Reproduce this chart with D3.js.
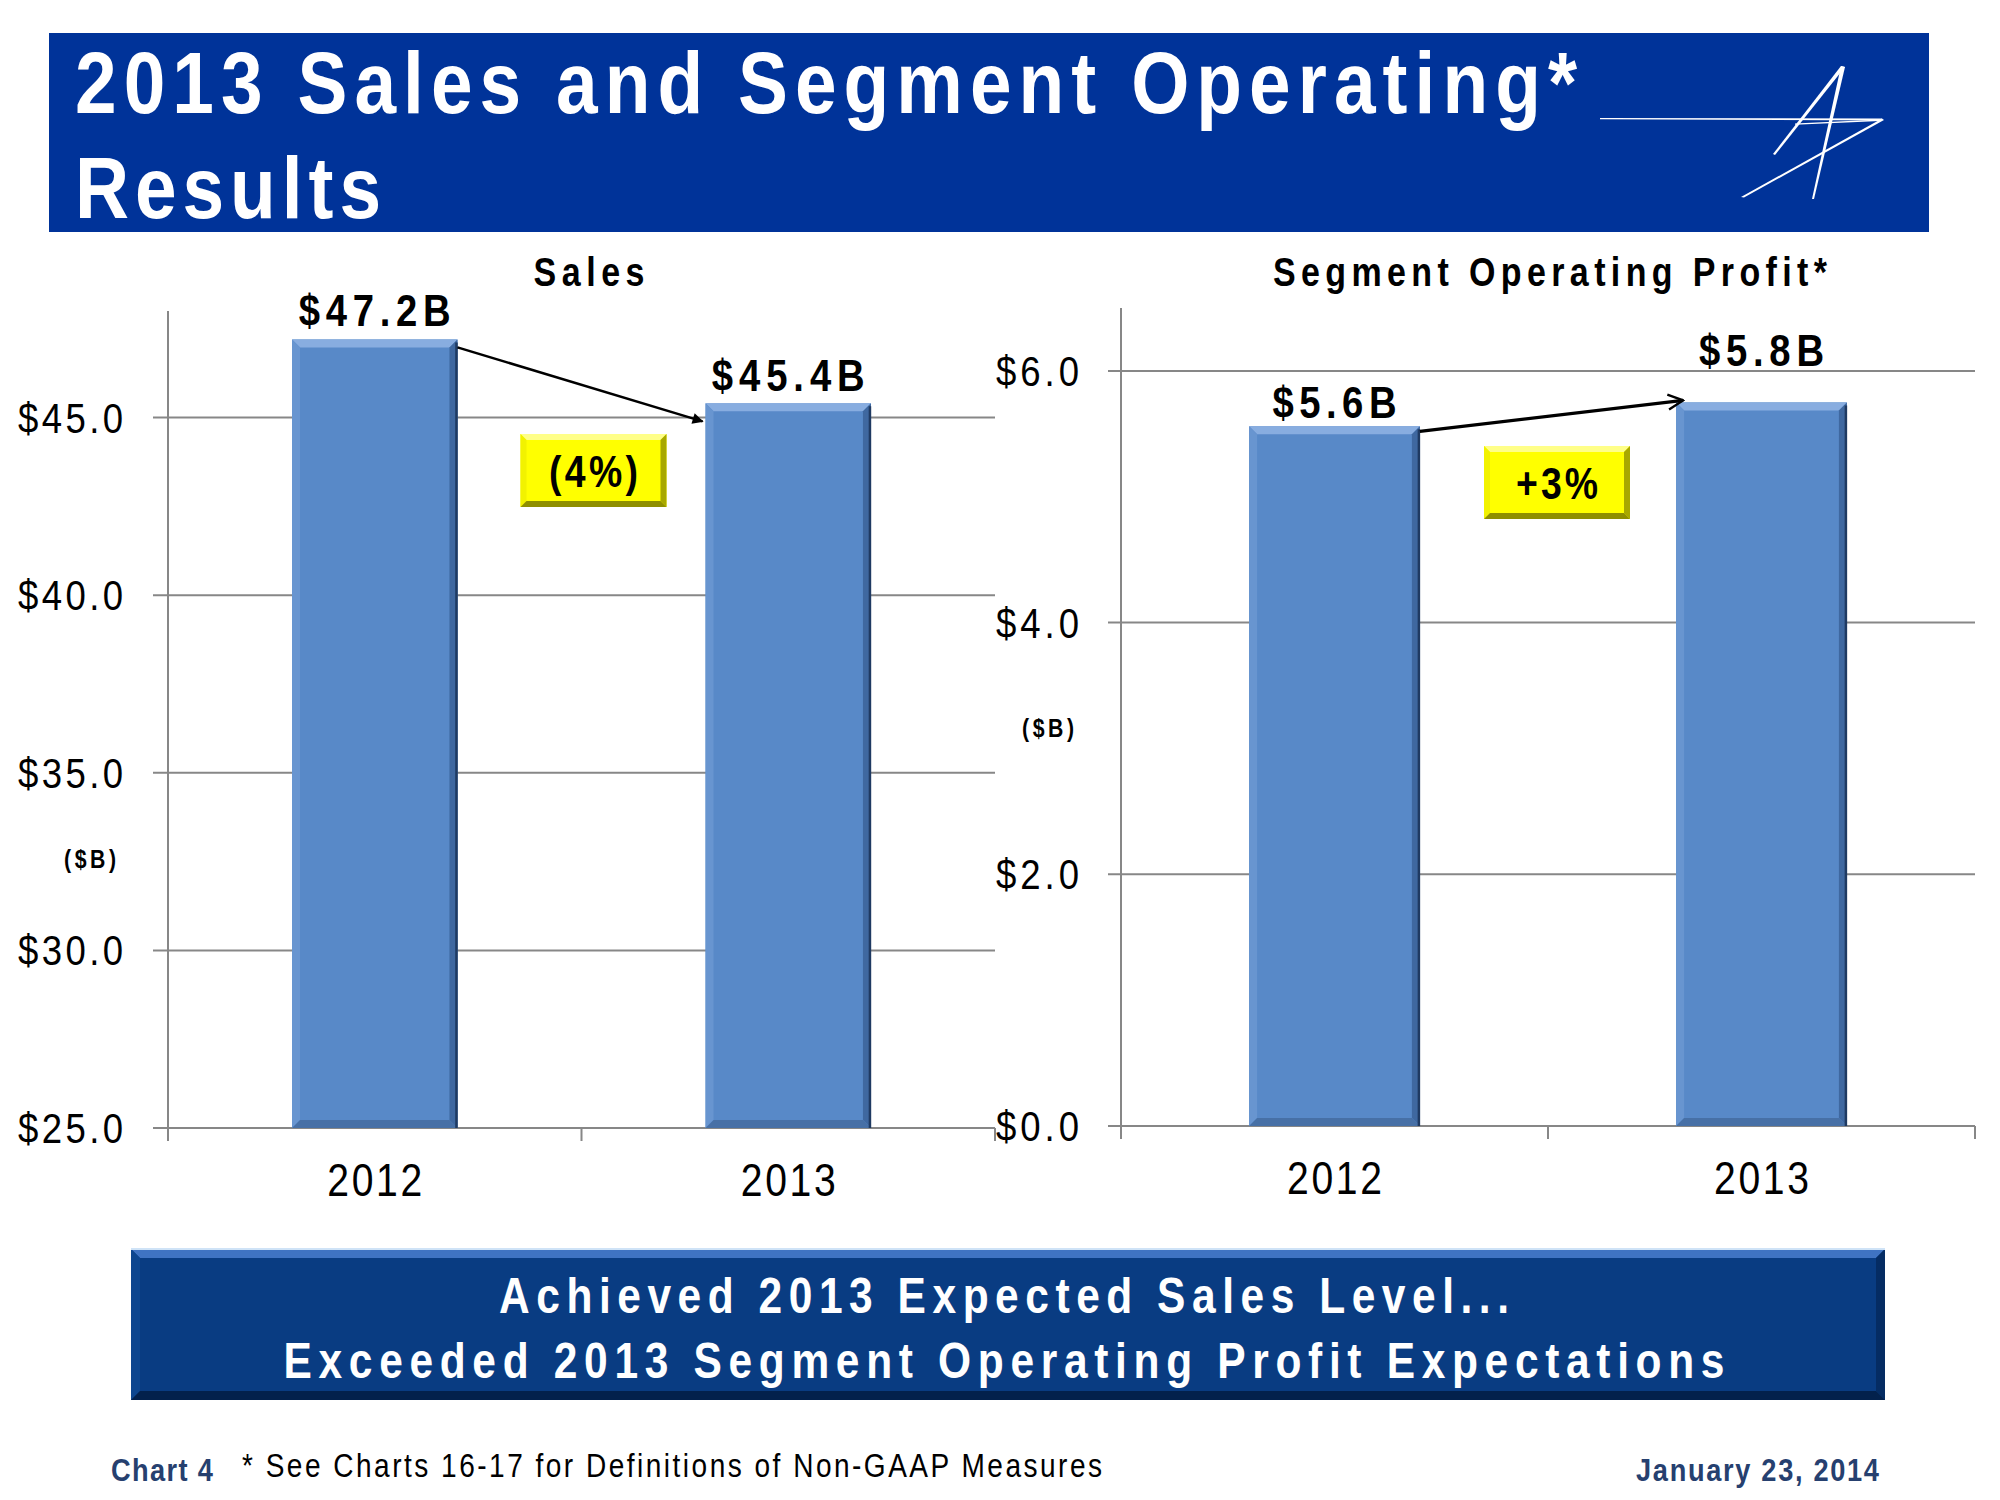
<!DOCTYPE html>
<html><head><meta charset="utf-8">
<script src="https://cdn.jsdelivr.net/npm/d3@7"></script>
<style>
body{margin:0;background:#fff}
svg{display:block}
text{font-family:"Liberation Sans Narrow","Arial Narrow","Liberation Sans",Arial,sans-serif}
</style>
</head><body>
<svg id="c" width="2000" height="1500"></svg>
<script>
// ---------- data ----------
const years = ["2012", "2013"];
const salesValues = [47.2, 45.4];
const salesLabels = ["$47.2B", "$45.4B"];
const salesTicks = [25, 30, 35, 40, 45];
const salesChange = "(4%)";
const profitValues = [5.56, 5.75];
const profitLabels = ["$5.6B", "$5.8B"];
const profitTicks = [0, 2, 4, 6];
const profitChange = "+3%";
const titleLines = ["2013 Sales and Segment Operating*", "Results"];
const bannerLines = ["Achieved 2013 Expected Sales Level...", "Exceeded 2013 Segment Operating Profit Expectations"];
const footerLeft = "Chart 4";
const footerNote = "* See Charts 16-17 for Definitions of Non-GAAP Measures";
const footerDate = "January 23, 2014";

// ---------- helpers ----------
const svg = d3.select("#c");
const defs = svg.append("defs");
const NARROW = 0.85;

// narrow, letter-spaced text: glyphs compressed horizontally, spacing fills target width
function ntext(parent, x, y, str, o) {
  const g = parent.append("g").attr("transform", `translate(${x},${y}) scale(${NARROW},1)`);
  const t = g.append("text").attr("x", 0).attr("y", 0)
    .attr("text-anchor", o.anchor || "start")
    .attr("font-size", o.size).attr("font-weight", o.weight || "normal")
    .attr("fill", o.fill || "#000").text(str);
  if (o.width) t.attr("textLength", o.width / NARROW).attr("lengthAdjust", "spacing");
  return t;
}

function bevelRect(g, x0, y0, x1, y1, b, cols) {
  g.append("rect").attr("x", x0).attr("y", y0).attr("width", x1 - x0).attr("height", y1 - y0).attr("fill", cols.main);
  const P = pts => "M" + pts.join("L") + "Z";
  g.append("path").attr("d", P([[x0, y0], [x1, y0], [x1 - b, y0 + b], [x0 + b, y0 + b]])).attr("fill", cols.top);
  g.append("path").attr("d", P([[x0, y0], [x0 + b, y0 + b], [x0 + b, y1 - b], [x0, y1]])).attr("fill", cols.left);
  g.append("path").attr("d", P([[x1, y0], [x1, y1], [x1 - b, y1 - b], [x1 - b, y0 + b]])).attr("fill", cols.right);
  g.append("path").attr("d", P([[x0, y1], [x1, y1], [x1 - b, y1 - b], [x0 + b, y1 - b]])).attr("fill", cols.bottom);
  if (cols.edge) {
    g.append("line").attr("x1", x1 - 1).attr("x2", x1 - 1).attr("y1", y0 + 3).attr("y2", y1).attr("stroke", cols.edge).attr("stroke-width", 2.5);
  }
}
const barCols = {main: "#5889c8", top: "#88ade0", left: "#6895d0", right: "#3f68a0", bottom: "#4770a6", edge: "#1f3a62"};
const yellowCols = {main: "#ffff00", top: "#ffff88", left: "#f2f200", right: "#a8a800", bottom: "#8f8f00", edge: null};

// ---------- title banner ----------
svg.append("rect").attr("x", 49).attr("y", 33).attr("width", 1880).attr("height", 199).attr("fill", "#003399");
const titleLayout = [{x: 75, y: 113, w: 1502}, {x: 75, y: 218, w: 306}];
titleLines.forEach((d, i) => ntext(svg, titleLayout[i].x, titleLayout[i].y, d,
  {size: 88, weight: "bold", fill: "#fff", width: titleLayout[i].w}));

// logo
const logo = svg.append("g").attr("fill", "#fff");
const logoShapes = [
  [[1600, 118], [1882, 118.5], [1882, 120.5], [1600, 119.3]],
  [[1882, 118.5], [1884, 120], [1744, 197.5], [1741, 197]],
  [[1773, 154], [1841, 66], [1845, 67], [1775, 155]],
  [[1841, 66], [1845, 67], [1814, 199], [1812, 199]],
  [[1795, 123.5], [1880, 119.5], [1880, 121], [1795, 124.8]]
];
logo.selectAll("path").data(logoShapes).join("path").attr("d", d => "M" + d.join("L") + "Z");

// arrow markers
defs.append("marker").attr("id", "arrFilled").attr("viewBox", "0 0 10 10").attr("refX", 9).attr("refY", 5)
  .attr("markerWidth", 12).attr("markerHeight", 11).attr("markerUnits", "userSpaceOnUse").attr("orient", "auto")
  .append("path").attr("d", "M0,0L10,5L0,10Z").attr("fill", "#000");
defs.append("marker").attr("id", "arrOpen").attr("viewBox", "0 0 12 12").attr("refX", 11).attr("refY", 6)
  .attr("markerWidth", 18).attr("markerHeight", 18).attr("markerUnits", "userSpaceOnUse").attr("orient", "auto")
  .append("path").attr("d", "M1,1L11,6L1,11").attr("fill", "none").attr("stroke", "#000").attr("stroke-width", 1.6);

// ---------- panels ----------
const panels = [
  {values: salesValues, labels: salesLabels, ticks: salesTicks, domain: [25, 48], change: salesChange,
   x0: 168, x1: 995, yTop: 311, yBot: 1128, tickX0: 153, tickLabelX: 123, tickLabelW: 105,
   title: "Sales", titleX: 589, titleW: 111, unitX: 90, unitY: 868,
   labelDy: [-13, -12], labelW: [152, 153],
   box: {dx: 12, y: 434, w: 146, h: 73, tw: 89},
   arrow: {sdy: 8, edx: -3, edy: 18, marker: "arrFilled", sw: 2.5}},
  {values: profitValues, labels: profitLabels, ticks: profitTicks, domain: [0, 6.5], change: profitChange,
   x0: 1121, x1: 1975, yTop: 308, yBot: 1126, tickX0: 1108, tickLabelX: 1079, tickLabelW: 83,
   title: "Segment Operating Profit*", titleX: 1550, titleW: 554, unitX: 1048, unitY: 737,
   labelDy: [-8, -36], labelW: [124, 125],
   box: {dx: 9, y: 446, w: 146, h: 73, tw: 82},
   arrow: {sdy: 5, edx: 7, edy: -2, marker: "arrOpen", sw: 3.2}}
];

panels.forEach(p => {
  const g = svg.append("g");
  const x = d3.scaleBand().domain(years).range([p.x0, p.x1]).padding(0);
  const y = d3.scaleLinear().domain(p.domain).range([p.yBot, p.yTop]);
  const bw = x.bandwidth();

  // gridlines
  g.selectAll("line.grid").data(p.ticks).join("line")
    .attr("x1", p.tickX0).attr("x2", p.x1).attr("y1", d => y(d)).attr("y2", d => y(d))
    .attr("stroke", "#878787").attr("stroke-width", 2);
  // y axis line
  g.append("line").attr("x1", p.x0).attr("x2", p.x0).attr("y1", p.yTop).attr("y2", p.yBot + 13)
    .attr("stroke", "#878787").attr("stroke-width", 2);
  // x ticks at band edges
  const edges = years.map(c => x(c)).concat([p.x1]);
  g.selectAll("line.xt").data(edges.slice(1)).join("line")
    .attr("x1", d => d).attr("x2", d => d).attr("y1", p.yBot).attr("y2", p.yBot + 13)
    .attr("stroke", "#878787").attr("stroke-width", 2);

  // y tick labels
  p.ticks.forEach(d => ntext(g, p.tickLabelX, y(d) + 15, "$" + d.toFixed(1),
    {size: 43, anchor: "end", width: p.tickLabelW}));

  // x labels
  years.forEach(d => ntext(g, x(d) + bw / 2, p.yBot + 68, d,
    {size: 46, anchor: "middle", width: 95}));

  // bars
  const barW = bw * 0.4;
  p.values.forEach((v, i) => {
    const bx0 = x(years[i]) + (bw - barW) / 2;
    bevelRect(g, bx0, y(v), bx0 + barW, y(p.domain[0]), 8, barCols);
  });

  // value labels
  p.labels.forEach((d, i) => ntext(g, x(years[i]) + bw / 2, y(p.values[i]) + p.labelDy[i], d,
    {size: 45, weight: "bold", anchor: "middle", width: p.labelW[i]}));

  // chart title
  ntext(g, p.titleX, 286, p.title, {size: 40, weight: "bold", anchor: "middle", width: p.titleW});

  // unit label
  ntext(g, p.unitX, p.unitY, "($B)", {size: 25, weight: "bold", anchor: "middle", width: 52});

  // arrow
  const b1x = x(years[0]) + (bw + barW) / 2, b2x = x(years[1]) + (bw - barW) / 2;
  g.append("line").attr("x1", b1x).attr("y1", y(p.values[0]) + p.arrow.sdy)
    .attr("x2", b2x + p.arrow.edx).attr("y2", y(p.values[1]) + p.arrow.edy)
    .attr("stroke", "#000").attr("stroke-width", p.arrow.sw).attr("marker-end", "url(#" + p.arrow.marker + ")");

  // change box
  const mid = x(years[1]) + p.box.dx;
  const bxg = g.append("g");
  bevelRect(bxg, mid - p.box.w / 2, p.box.y, mid + p.box.w / 2, p.box.y + p.box.h, 6, yellowCols);
  ntext(bxg, mid, p.box.y + p.box.h / 2 + 16, p.change, {size: 44, weight: "bold", anchor: "middle", width: p.box.tw});
});

// ---------- bottom banner ----------
const bg = svg.append("g");
bevelRect(bg, 131, 1249, 1885, 1400, 9, {main: "#093c82", top: "#3f73c2", left: "#0d468f", right: "#052c63", bottom: "#03214c", edge: null});
bg.append("line").attr("x1", 131).attr("x2", 1885).attr("y1", 1249).attr("y2", 1249).attr("stroke", "#cfe3f7").attr("stroke-width", 2);
const bannerLayout = [{y: 1313, w: 1010}, {y: 1378, w: 1441}];
bannerLines.forEach((d, i) => ntext(bg, 1004, bannerLayout[i].y, d,
  {size: 50, weight: "bold", fill: "#fff", anchor: "middle", width: bannerLayout[i].w}));

// ---------- footer ----------
ntext(svg, 111, 1481, footerLeft, {size: 32, weight: "bold", fill: "#26406f", width: 102});
ntext(svg, 242, 1477, footerNote, {size: 33, fill: "#000", width: 860});
ntext(svg, 1879, 1481, footerDate, {size: 32, weight: "bold", fill: "#26406f", anchor: "end", width: 243});
</script>
</body></html>
